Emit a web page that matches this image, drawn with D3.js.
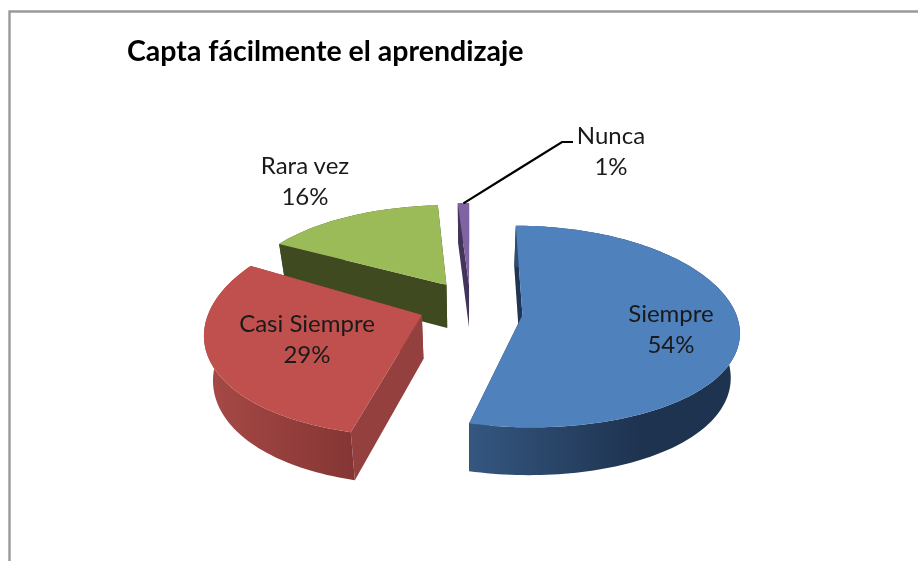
<!DOCTYPE html>
<html><head><meta charset="utf-8">
<script src="https://cdn.jsdelivr.net/npm/d3@7/dist/d3.min.js"></script>
<style>html,body{margin:0;padding:0;background:#fff}svg{display:block;filter:blur(.4px)}text{font-family:Lato,"Open Sans",sans-serif}</style>
</head><body><svg id="c" width="918" height="561"></svg>
<script>
const categories = ["Siempre","Casi Siempre","Rara vez","Nunca"];
const values = [54,29,16,1];
const chartTitle = "Capta fácilmente el aprendizaje";
const topColors = ["#4f81bd","#c0504d","#9bbb59","#8064a2"];
const wallColors = ["#1f3552","#94403e","#3f4a20","#43355a"];
const outerStops = [["#34567f","#1e3350"],["#a64946","#843533"],["#4d5c28","#3f4a20"],["#43355a","#43355a"]];
// world-space explosion offset of each slice (x, toward viewer)
const offsets = [[.245,.2],[-.225,.2],[-.115,-.095],[-.005,-.1]];
const radialY = [.96,1.03,.93,.95];
const labelPos = [[671,322],[307,332],[305,174],[611,144]];

const W=918,H=561, cx=470, A=214, px=.15;
const svg=d3.select("#c");
const defs=svg.append("defs");
svg.append("path").attr("d",`M9.5 561V11.5H${W}`).attr("fill","none").attr("stroke","#999").attr("stroke-width",2.4);
svg.append("text").attr("x",127).attr("y",61).attr("font-size",28.5).attr("font-weight",700).attr("fill","#000").text(chartTitle);

const pie=d3.pie().sort(null).startAngle(0).endAngle(2*Math.PI);
const arcs=pie(values);
const project=(X,Y)=>[cx+A*X/(1-px*(Y-.2)), 294.5+100*Y+12.5*Y*Y];
const lower=([x,y])=>[cx+(x-cx)*.966, 33.3+1.034*y];
const line=d3.line();

const slices=arcs.map((a,i)=>{
  const [ox,oy]=offsets[i];
  const n=Math.max(4,Math.ceil((a.endAngle-a.startAngle)*40));
  const rim=d3.range(n+1).map(k=>{
    const t=a.startAngle+(a.endAngle-a.startAngle)*k/n;
    return project(ox+Math.sin(t),oy-Math.cos(t)*radialY[i]);
  });
  return {i,apex:project(ox,oy),rim,name:categories[i],v:values[i],back:Math.cos((a.startAngle+a.endAngle)/2)>0};
});

function drawSlice(s){
  const g=svg.append("g");
  const id="o"+s.i;
  const gr=defs.append("linearGradient").attr("id",id).attr("gradientUnits","userSpaceOnUse")
    .attr("x1",s.i==1?210:472).attr("x2",s.i==1?357:640).attr("y1",0).attr("y2",0);
  gr.append("stop").attr("offset",0).attr("stop-color",outerStops[s.i][0]);
  gr.append("stop").attr("offset",1).attr("stop-color",outerStops[s.i][1]);
  const a=s.apex, r0=s.rim[0], r1=s.rim[s.rim.length-1];
  const walls=()=>{[r0,r1].forEach(r=>g.append("path").attr("d",line([a,r,lower(r),lower(a)])+"Z").attr("fill",wallColors[s.i]));};
  const outer=()=>g.append("path").attr("d",line(s.rim.concat(s.rim.map(lower).reverse()))+"Z").attr("fill",`url(#${id})`);
  if(s.back){outer();walls();}else{walls();outer();}
  g.append("path").attr("d",line([a].concat(s.rim))+"Z").attr("fill",topColors[s.i]);
}
[2,3,0,1].forEach(i=>drawSlice(slices[i]));

const nunca=slices[3], tip=nunca.rim[Math.floor(nunca.rim.length/2)];
const nl=labelPos[3];
svg.append("path").attr("d",line([tip,[nl[0]-49,nl[1]-2],[nl[0]-38,nl[1]-2]])).attr("fill","none").attr("stroke","#000").attr("stroke-width",2.2);

slices.forEach((s,i)=>{
  const t=svg.append("text").attr("text-anchor","middle").attr("font-size",24).attr("fill","#1a1a1a");
  t.append("tspan").attr("x",labelPos[i][0]).attr("y",labelPos[i][1]).text(s.name);
  t.append("tspan").attr("x",labelPos[i][0]).attr("y",labelPos[i][1]+31).text(s.v+"%");
});
</script></body></html>
